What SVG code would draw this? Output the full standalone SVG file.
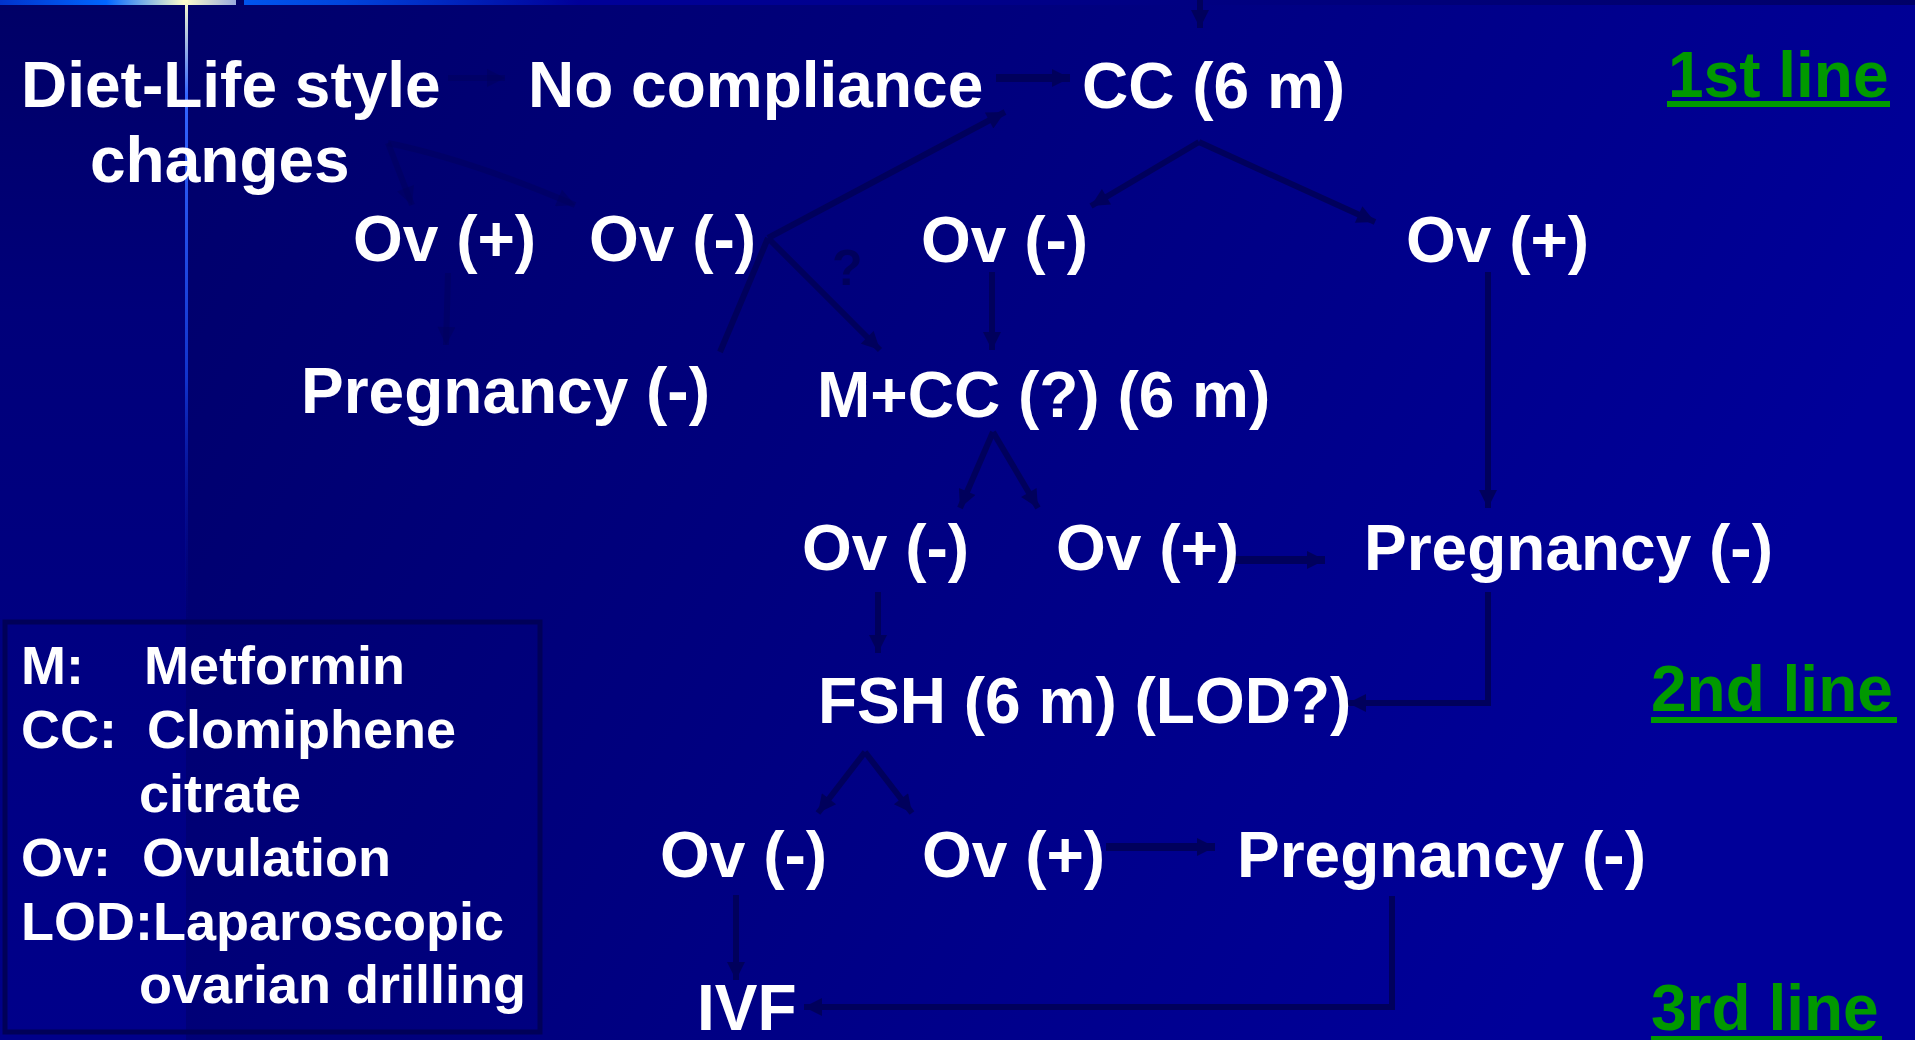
<svg xmlns="http://www.w3.org/2000/svg" width="1915" height="1040" viewBox="0 0 1915 1040">
<defs>
<linearGradient id="bg" x1="0" y1="0" x2="1" y2="0.3">
<stop offset="0" stop-color="#000066"/>
<stop offset="0.5" stop-color="#00007e"/>
<stop offset="1" stop-color="#000099"/>
</linearGradient>
<linearGradient id="strip" x1="0" y1="0" x2="0" y2="1">
<stop offset="0" stop-color="#000066"/>
<stop offset="0.3" stop-color="#00007a"/>
<stop offset="1" stop-color="#00008a"/>
</linearGradient>
<linearGradient id="topbarL" x1="0" y1="0" x2="236" y2="0" gradientUnits="userSpaceOnUse">
<stop offset="0" stop-color="#0033cc"/>
<stop offset="0.45" stop-color="#0066ff"/>
<stop offset="0.78" stop-color="#ffffcc"/>
<stop offset="1" stop-color="#99aadd"/>
</linearGradient>
<linearGradient id="topbarR" x1="244" y1="0" x2="1915" y2="0" gradientUnits="userSpaceOnUse">
<stop offset="0" stop-color="#0055ee"/>
<stop offset="0.06" stop-color="#0044dd"/>
<stop offset="0.2" stop-color="#000099"/>
<stop offset="1" stop-color="#000066"/>
</linearGradient>
<linearGradient id="vline" x1="0" y1="0" x2="0" y2="630" gradientUnits="userSpaceOnUse">
<stop offset="0" stop-color="#ffffcc"/>
<stop offset="0.15" stop-color="#3366ff"/>
<stop offset="0.6" stop-color="#1133cc"/>
<stop offset="1" stop-color="#000088" stop-opacity="0"/>
</linearGradient>
<marker id="ah" viewBox="0 0 10 10" refX="10" refY="5" markerWidth="20" markerHeight="18" markerUnits="userSpaceOnUse" orient="auto">
<path d="M0,0 L10,5 L0,10 z" fill="#00005c"/>
</marker>
<marker id="ahf" viewBox="0 0 10 10" refX="10" refY="5" markerWidth="20" markerHeight="18" markerUnits="userSpaceOnUse" orient="auto">
<path d="M0,0 L10,5 L0,10 z" fill="#00005c" fill-opacity="0.5"/>
</marker>
<style>
.t{font-family:"Liberation Sans",Arial,sans-serif;font-weight:bold;font-size:64px;fill:#ffffff}
.lg{font-family:"Liberation Sans",Arial,sans-serif;font-weight:bold;font-size:54px;fill:#ffffff}
.gr{font-family:"Liberation Sans",Arial,sans-serif;font-weight:bold;font-size:64px;fill:#009900}
.c{fill:none;stroke:#00005c;stroke-width:6}
.cf{fill:none;stroke:#00005c;stroke-opacity:0.5;stroke-width:6}
.cw{fill:none;stroke:#00005c;stroke-width:8}
.q{font-family:"Liberation Sans",Arial,sans-serif;font-weight:bold;font-size:50px;fill:#00005c}
</style>
</defs>

<rect width="1915" height="1040" fill="url(#bg)"/>
<rect x="0" y="0" width="186" height="1040" fill="url(#strip)"/>
<rect x="0" y="0" width="1915" height="5" fill="#000066"/>
<rect x="0" y="0" width="236" height="5" fill="url(#topbarL)"/>
<rect x="244" y="0" width="1671" height="5" fill="url(#topbarR)"/>
<rect x="185" y="0" width="3" height="630" fill="url(#vline)"/>

<g id="legend">
<rect x="5" y="622" width="535" height="410" fill="none" stroke="#000058" stroke-width="5"/>
<text class="lg" x="21" y="684">M:</text>
<text class="lg" x="144" y="684">Metformin</text>
<text class="lg" x="21" y="748">CC:</text>
<text class="lg" x="147" y="748">Clomiphene</text>
<text class="lg" x="139" y="812">citrate</text>
<text class="lg" x="21" y="876">Ov:</text>
<text class="lg" x="142" y="876">Ovulation</text>
<text class="lg" x="21" y="940">LOD:Laparoscopic</text>
<text class="lg" x="139" y="1003">ovarian drilling</text>
</g>

<g id="connectors">
<line class="c" x1="1200" y1="0" x2="1200" y2="28" marker-end="url(#ah)"/>
<line class="cf" x1="448" y1="78" x2="505" y2="78" marker-end="url(#ahf)"/>
<line class="cw" x1="996" y1="78" x2="1070" y2="78" marker-end="url(#ah)"/>
<path class="cf" d="M388,143 L412,205" marker-end="url(#ahf)"/>
<path class="cf" d="M388,143 Q470,160 575,205" marker-end="url(#ahf)"/>
<line class="cf" x1="448" y1="273" x2="446" y2="345" marker-end="url(#ahf)"/>
<line class="c" x1="768" y1="238" x2="1005" y2="112" marker-end="url(#ah)"/>
<line class="c" x1="768" y1="238" x2="720" y2="352"/>
<line class="c" x1="768" y1="238" x2="880" y2="350" marker-end="url(#ah)"/>
<path class="c" d="M1199,142 L1375,222" marker-end="url(#ah)"/>
<path class="c" d="M1199,142 L1091,206" marker-end="url(#ah)"/>
<line class="c" x1="992" y1="272" x2="992" y2="350" marker-end="url(#ah)"/>
<line class="c" x1="1488" y1="272" x2="1488" y2="508" marker-end="url(#ah)"/>
<path class="c" d="M993,432 L960,508" marker-end="url(#ah)"/>
<path class="c" d="M993,432 L1038,508" marker-end="url(#ah)"/>
<line class="cw" x1="1234" y1="560" x2="1325" y2="560" marker-end="url(#ah)"/>
<line class="c" x1="878" y1="592" x2="878" y2="653" marker-end="url(#ah)"/>
<path class="c" d="M1488,592 L1488,703 L1348,703" marker-end="url(#ah)"/>
<path class="c" d="M865,752 L818,813" marker-end="url(#ah)"/>
<path class="c" d="M865,752 L912,813" marker-end="url(#ah)"/>
<line class="cw" x1="1106" y1="847" x2="1215" y2="847" marker-end="url(#ah)"/>
<line class="c" x1="736" y1="895" x2="736" y2="980" marker-end="url(#ah)"/>
<path class="c" d="M1392,896 L1392,1007 L804,1007" marker-end="url(#ah)"/>
<text class="q" x="832" y="285">?</text>
</g>

<g id="n-diet"><text class="t" x="21" y="107">Diet-Life style</text><text class="t" x="90" y="182">changes</text></g>
<g id="n-nocompliance"><text class="t" x="528" y="107">No compliance</text></g>
<g id="n-cc"><text class="t" x="1082" y="108">CC (6 m)</text></g>
<g id="n-1stline"><text class="gr" x="1668" y="97">1st line</text><rect x="1667" y="101" width="223" height="6" fill="#009900"/></g>

<g id="n-ovp1"><text class="t" x="353" y="261">Ov (+)</text></g>
<g id="n-ovm1"><text class="t" x="589" y="261">Ov (-)</text></g>
<g id="n-ovm2"><text class="t" x="921" y="262">Ov (-)</text></g>
<g id="n-ovp2"><text class="t" x="1406" y="262">Ov (+)</text></g>

<g id="n-preg1"><text class="t" x="301" y="413">Pregnancy (-)</text></g>
<g id="n-mcc"><text class="t" x="817" y="417">M+CC (?) (6 m)</text></g>

<g id="n-ovm3"><text class="t" x="802" y="570">Ov (-)</text></g>
<g id="n-ovp3"><text class="t" x="1056" y="570">Ov (+)</text></g>
<g id="n-preg2"><text class="t" x="1364" y="570">Pregnancy (-)</text></g>

<g id="n-fsh"><text class="t" x="818" y="723">FSH (6 m) (LOD?)</text></g>
<g id="n-2ndline"><text class="gr" x="1651" y="711">2nd line</text><rect x="1651" y="717" width="246" height="6" fill="#009900"/></g>

<g id="n-ovm4"><text class="t" x="660" y="877">Ov (-)</text></g>
<g id="n-ovp4"><text class="t" x="922" y="877">Ov (+)</text></g>
<g id="n-preg3"><text class="t" x="1237" y="877">Pregnancy (-)</text></g>

<g id="n-ivf"><text class="t" x="697" y="1030">IVF</text></g>
<g id="n-3rdline"><text class="gr" x="1651" y="1030">3rd line</text><rect x="1651" y="1036" width="231" height="6" fill="#009900"/></g>
</svg>
